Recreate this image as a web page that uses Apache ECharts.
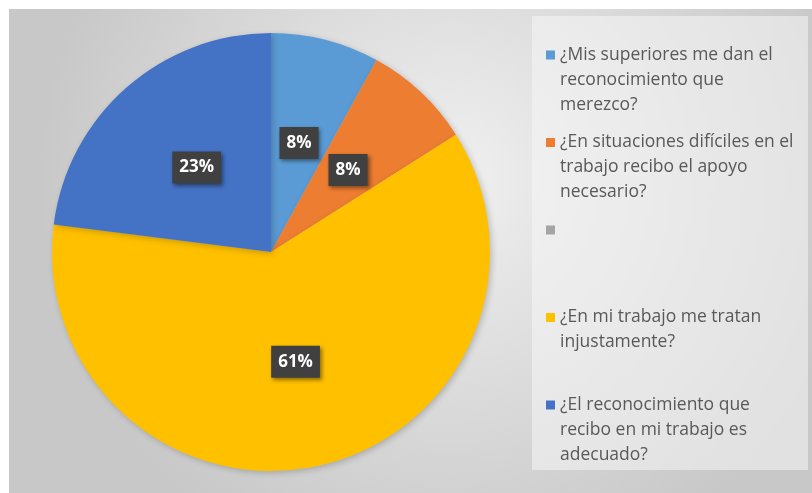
<!DOCTYPE html>
<html>
<head>
<meta charset="utf-8">
<script src="https://cdn.jsdelivr.net/npm/echarts@6/dist/echarts.min.js"></script>
<style>
  html, body { margin: 0; padding: 0; background: #fff; }
  #chart {
    position: absolute;
    left: 9px;
    top: 9px;
    width: 803px;
    height: 484px;
  }
</style>
</head>
<body>
<div id="chart"></div>
<script>
// respuestas de la encuesta (porcentajes)
const categories = [
  '¿Mis superiores me dan el\nreconocimiento que\nmerezco?',
  '¿En situaciones difíciles en el\ntrabajo recibo el apoyo\nnecesario?',
  ' ',
  '¿En mi trabajo me tratan\ninjustamente?',
  '¿El reconocimiento que\nrecibo en mi trabajo es\nadecuado?'
];
const values = [8, 8, 0, 61, 23];
const colors = ['#5B9BD5', '#ED7D31', '#A5A5A5', '#FFC000', '#4472C4'];

const chart = echarts.init(document.getElementById('chart'));

const fontFamily = '"Open Sans", Lato, sans-serif';
const lineH = 25;

// one legend per entry so the entries are evenly spaced like in Excel;
// blank lines on top keep the marker level with the first text line
const legends = categories.map((name, i) => {
  const n = name.split('\n').length;
  return {
    data: [name],
    left: 537,
    top: 46 + i * 87.5 - (n - 1) * lineH - lineH / 2,
    orient: 'vertical',
    padding: 0,
    itemWidth: 9,
    itemHeight: 9,
    icon: 'rect',
    selectedMode: false,
    formatter: nm => '\n'.repeat(n - 1) + nm,
    textStyle: {
      fontFamily: fontFamily,
      fontSize: 17.5,
      lineHeight: lineH,
      color: '#595959'
    }
  };
});

const option = {
  backgroundColor: {
    type: 'radial',
    x: 0.55, y: 0.35, r: 0.85,
    colorStops: [
      { offset: 0, color: '#f0f0f0' },
      { offset: 1, color: '#c8c8c8' }
    ]
  },
  color: colors,
  graphic: [
    {
      type: 'rect',
      z: -1,
      shape: { x: 523, y: 7, width: 276, height: 454 },
      style: { fill: 'rgba(245,245,245,0.55)' }
    }
  ],
  legend: legends,
  series: [
    {
      type: 'pie',
      center: [262, 243],
      radius: 219,
      startAngle: 90,
      clockwise: true,
      avoidLabelOverlap: false,
      data: categories.map((name, i) => ({
        name: name,
        value: values[i],
        label: { show: values[i] > 0 }
      })),
      itemStyle: {
        shadowBlur: 6,
        shadowColor: 'rgba(0,0,0,0.2)',
        shadowOffsetX: 2,
        shadowOffsetY: 2
      },
      label: {
        position: 'inside',
        formatter: p => p.value + '%',
        color: '#fff',
        fontFamily: fontFamily,
        fontWeight: 'bold',
        fontSize: 17,
        lineHeight: 20,
        backgroundColor: '#404040',
        padding: [6, 7],
        shadowBlur: 4,
        shadowColor: 'rgba(0,0,0,0.45)',
        shadowOffsetX: 2,
        shadowOffsetY: 2
      },
      labelLine: { show: false },
      emphasis: { disabled: true }
    }
  ]
};

chart.setOption(option);
</script>
</body>
</html>
